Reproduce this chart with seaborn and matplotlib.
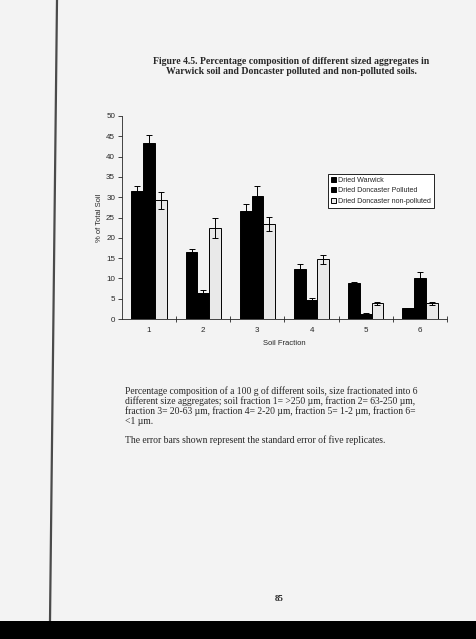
import matplotlib
matplotlib.use("Agg")
import matplotlib.pyplot as plt
from matplotlib.lines import Line2D
from matplotlib.patches import Rectangle
import seaborn as sns
import pandas as pd
import numpy as np

fractions = ["1", "2", "3", "4", "5", "6"]
series = ["Dried Warwick", "Dried Doncaster Polluted", "Dried Doncaster non-polluted"]
warwick = [31.5, 16.4, 26.6, 12.2, 8.8, 2.6]
warwick_se = [1.3, 0.9, 1.7, 1.4, 0.4, 0.2]
polluted = [43.3, 6.3, 30.4, 4.8, 1.2, 10.1]
polluted_se = [2.0, 0.8, 2.3, 0.3, 0.2, 1.4]
nonpolluted = [29.3, 22.5, 23.4, 14.7, 3.9, 3.9]
nonpolluted_se = [2.1, 2.5, 1.7, 1.1, 0.4, 0.4]
yticks = [0, 5, 10, 15, 20, 25, 30, 35, 40, 45, 50]

title = ("Figure 4.5. Percentage composition of different sized aggregates in\n"
         "Warwick soil and Doncaster polluted and non-polluted soils.")
caption1 = ("Percentage composition of a 100 g of different soils, size fractionated into 6\n"
            "different size aggregates; soil fraction 1= >250 \u00b5m, fraction 2= 63-250 \u00b5m,\n"
            "fraction 3= 20-63 \u00b5m, fraction 4= 2-20 \u00b5m, fraction 5= 1-2 \u00b5m, fraction 6=\n"
            "<1 \u00b5m.")
caption2 = "The error bars shown represent the standard error of five replicates."
page_no = "85"

values = [warwick, polluted, nonpolluted]
errors = [warwick_se, polluted_se, nonpolluted_se]
rows = []
for s, vals in zip(series, values):
    for f, v in zip(fractions, vals):
        rows.append({"Soil Fraction": f, "value": v, "series": s})
df = pd.DataFrame(rows)

sns.set_style("ticks")
plt.rcParams["font.family"] = ["Liberation Sans", "DejaVu Sans"]

fig = plt.figure(figsize=(4.77, 6.39), dpi=100)
fig.patch.set_facecolor("#f3f3f3")
ax = fig.add_axes([122/477, 1-319/639, 325/477, 203/639])
ax.set_facecolor("none")

palette = {series[0]: "#000000", series[1]: "#000000", series[2]: "#e9e9e9"}
sns.barplot(data=df, x="Soil Fraction", y="value", hue="series", palette=palette,
            hue_order=series, order=fractions, width=0.65, errorbar=None,
            edgecolor="black", linewidth=0.7, saturation=1, ax=ax, legend=True)

for cont, err in zip(ax.containers, errors):
    xs = [b.get_x() + b.get_width()/2 for b in cont]
    hs = [b.get_height() for b in cont]
    ax.errorbar(xs, hs, yerr=err, fmt="none", ecolor="black", elinewidth=0.7,
                capsize=2, capthick=0.7)

ax.set_xlim(-0.5, 5.5)
ax.set_ylim(0, 50)
ax.set_yticks(yticks)
ax.set_xticks(np.arange(len(fractions)))
ax.set_xticklabels(fractions)
ax.set_xticks(np.arange(len(fractions)) + 0.5, minor=True)
ax.tick_params(axis="x", which="major", length=0, labelsize=5.8, pad=6)
ax.tick_params(axis="x", which="minor", direction="inout", length=4, width=0.6)
ax.tick_params(axis="y", length=3, width=0.6, labelsize=5.8, pad=2)
for s in ["top", "right"]:
    ax.spines[s].set_visible(False)
for s in ["left", "bottom"]:
    ax.spines[s].set_linewidth(0.6)
ax.set_xlabel("Soil Fraction", fontsize=5.5, labelpad=4)
ax.set_ylabel("% of Total Soil", fontsize=5.5, labelpad=2)

leg = ax.legend(loc="upper left", bbox_to_anchor=(0.634, 0.714), fontsize=5.1,
                frameon=True, fancybox=False, edgecolor="black", framealpha=1,
                handlelength=0.7, handleheight=0.7, handletextpad=0.3,
                borderpad=0.45, labelspacing=0.45, borderaxespad=0)
leg.get_frame().set_linewidth(0.6)
leg.get_frame().set_facecolor("white")

fig.text(291/477, 1-57/639, title, ha="center", va="top", fontsize=7,
         fontweight="bold", family=["Liberation Serif", "DejaVu Serif"], linespacing=1.15)
fig.text(125/477, 1-386/639, caption1, ha="left", va="top", fontsize=6.95,
         family=["Liberation Serif", "DejaVu Serif"], linespacing=1.07)
fig.text(125/477, 1-435/639, caption2, ha="left", va="top", fontsize=6.95,
         family=["Liberation Serif", "DejaVu Serif"])
fig.text(279/477, 1-599/639, page_no, ha="center", va="center", fontsize=6.4,
         fontweight="bold", family=["Liberation Serif", "DejaVu Serif"])

fig.patches.append(Rectangle((0, 0), 1, 18/639, transform=fig.transFigure,
                             facecolor="black", edgecolor="none", zorder=5))
fig.lines.append(Line2D([57/477, 50/477], [1, 18/639], transform=fig.transFigure,
                        color="#4a4a4a", linewidth=1.6, zorder=5))

fig.savefig("out.png", dpi=100, facecolor=fig.get_facecolor())
